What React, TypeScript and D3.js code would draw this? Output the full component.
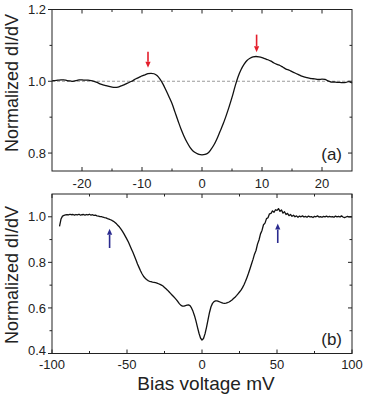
import React from "react";
import * as d3 from "d3";

// ---------- Panel (a) data ----------
const aBias = [
  -25, -24.5, -24, -23.5, -23, -22.5, -22, -21.5, -21, -20.5, -20, -19.5, -19, -18.5, -18, -17.5, -17, -16.5, -16, -15.5,
  -15, -14.5, -14, -13.5, -13, -12.5, -12, -11.5, -11, -10.5, -10, -9.5, -9, -8.5, -8, -7.5, -7, -6.5, -6, -5.5,
  -5, -4.5, -4, -3.5, -3, -2.5, -2, -1.5, -1, -0.5, 0, 0.5, 1, 1.5, 2, 2.5, 3, 3.5, 4, 4.5,
  5, 5.5, 6, 6.5, 7, 7.5, 8, 8.5, 9, 9.5, 10, 10.5, 11, 11.5, 12, 12.5, 13, 13.5, 14, 14.5,
  15, 15.5, 16, 16.5, 17, 17.5, 18, 18.5, 19, 19.5, 20, 20.5, 21, 21.5, 22, 22.5, 23, 23.5, 24, 24.5, 25,
];
const aDidv = [
  1.001, 1.002, 1.003, 1.004, 1.004, 1.002, 1.001, 1.0, 1.002, 1.004, 1.004, 1.003, 1.003, 1.002, 1.0, 0.997, 0.993, 0.99, 0.988, 0.986,
  0.984, 0.983, 0.984, 0.987, 0.99, 0.994, 0.998, 1.002, 1.007, 1.011, 1.015, 1.018, 1.021, 1.022, 1.021, 1.016, 1.006, 0.992, 0.975, 0.957,
  0.938, 0.914, 0.89, 0.867, 0.847, 0.83, 0.816, 0.806, 0.8, 0.796, 0.795, 0.796, 0.8, 0.81, 0.823, 0.84, 0.86, 0.88, 0.903, 0.928,
  0.955, 0.985, 1.012, 1.032, 1.047, 1.058, 1.064, 1.068, 1.069, 1.068, 1.066, 1.063, 1.06, 1.056, 1.051, 1.047, 1.044, 1.039, 1.034, 1.031,
  1.027, 1.023, 1.019, 1.015, 1.012, 1.01, 1.008, 1.007, 1.006, 1.005, 1.006, 1.005, 1.001, 0.998, 0.998, 0.997, 0.997, 0.996, 0.997, 0.999, 0.995,
];
const aXTicks = [-20, -10, 0, 10, 20];
const aXMinor = [-15, -5, 5, 15];
const aYTicks = [0.8, 1.0, 1.2];
const aYMinor = [0.9, 1.1];
const aArrowX = [-9, 9.1];
const aArrowTip = [1.038, 1.0806];
const aArrowTail = [1.0825, 1.13];

// ---------- Panel (b) data ----------
const bBias = [
  -95, -94, -93, -92, -91, -90, -89, -88, -87, -86, -85, -84, -83, -82, -81, -80, -79, -78, -77, -76,
  -75, -74, -73, -72, -71, -70, -69, -68, -67, -66, -65, -64, -63, -62, -61, -60, -59, -58, -57, -56,
  -55, -54, -53, -52, -51, -50, -49, -48, -47, -46, -45, -44, -43, -42, -41, -40, -39, -38, -37, -36,
  -35, -34, -33, -32, -31, -30, -29, -28, -27, -26, -25, -24, -23, -22, -21, -20, -19, -18, -17, -16,
  -15, -14, -13, -12, -11, -10, -9, -8, -7, -6, -5, -4, -3, -2, -1, 0, 1, 2, 3, 4,
  5, 6, 7, 8, 9, 10, 11, 12, 13, 14, 15, 16, 17, 18, 19, 20, 21, 22, 23, 24,
  25, 26, 27, 28, 29, 30, 31, 32, 33, 34, 35, 36, 37, 38, 39, 40, 41, 42, 43, 44,
  45, 46, 47, 48, 49, 50, 51, 52, 53, 54, 55, 56, 57, 58, 59, 60, 61, 62, 63, 64,
  65, 66, 67, 68, 69, 70, 71, 72, 73, 74, 75, 76, 77, 78, 79, 80, 81, 82, 83, 84,
  85, 86, 87, 88, 89, 90, 91, 92, 93, 94, 95, 96, 97, 98, 99, 100,
];
const bDidv = [
  0.958, 0.99, 1.003, 1.006, 1.008, 1.01, 1.008, 1.011, 1.009, 1.01, 1.007, 1.01, 1.008, 1.011, 1.007, 1.009, 1.01, 1.007, 1.01, 1.008,
  1.011, 1.007, 1.009, 1.006, 1.007, 1.004, 1.003, 1.001, 1.001, 0.998, 0.996, 0.995, 0.992, 0.99, 0.987, 0.984, 0.98, 0.975, 0.969, 0.962,
  0.955, 0.946, 0.936, 0.925, 0.913, 0.901, 0.888, 0.873, 0.858, 0.843, 0.827, 0.81, 0.793, 0.778, 0.763, 0.75, 0.739, 0.731, 0.725, 0.72,
  0.717, 0.715, 0.713, 0.712, 0.711, 0.709, 0.706, 0.703, 0.7, 0.696, 0.69, 0.684, 0.678, 0.671, 0.664, 0.657, 0.65, 0.643, 0.635, 0.627,
  0.618, 0.611, 0.608, 0.608, 0.61, 0.612, 0.613, 0.61, 0.6, 0.585, 0.566, 0.542, 0.515, 0.489, 0.468, 0.459, 0.466, 0.486, 0.515, 0.548,
  0.58, 0.605, 0.62, 0.628, 0.631, 0.631, 0.629, 0.626, 0.623, 0.621, 0.62, 0.621, 0.623, 0.626, 0.63, 0.635, 0.641, 0.647, 0.654, 0.662,
  0.67, 0.678, 0.689, 0.702, 0.717, 0.734, 0.752, 0.772, 0.793, 0.813, 0.836, 0.852, 0.88, 0.898, 0.925, 0.94, 0.965, 0.972, 0.992, 0.996,
  1.013, 1.015, 1.026, 1.02, 1.031, 1.028, 1.036, 1.024, 1.03, 1.016, 1.022, 1.01, 1.015, 1.005, 1.01, 1.002, 1.007, 1.0, 1.004, 0.998,
  1.003, 1.0, 1.004, 0.999, 1.002, 0.998, 1.003, 1.0, 1.001, 0.997, 1.002, 1.0, 1.004, 0.999, 1.001, 0.998, 1.002, 1.0, 1.003, 0.999,
  1.002, 1.0, 1.001, 0.998, 1.003, 1.0, 1.002, 0.999, 1.004, 0.999, 0.996, 0.999, 1.002, 1.0, 1.001, 1.0,
];
const bXTicks = [-100, -50, 0, 50, 100];
const bXMinor = [-75, -25, 25, 75];
const bYTicks = [0.4, 0.6, 0.8, 1.0];
const bYMinor = [0.5, 0.7, 0.9];
const bArrowX = [-61.6, 50.5];
const bArrowTip = [0.947, 0.97];
const bArrowTail = [0.863, 0.885];

const FONT = "'Liberation Sans', Arial, Helvetica, sans-serif";

type PanelProps = {
  xDomain: [number, number];
  yDomain: [number, number];
  top: number;
  bottom: number;
  xs: number[];
  ys: number[];
  xTicks: number[];
  xMinor: number[];
  yTicks: number[];
  yMinor: number[];
  arrowX: number[];
  arrowTip: number[];
  arrowTail: number[];
  arrowColor: string;
  label: string;
  dashed?: number;
  smooth?: boolean;
  labelBaseline: number;
  xLabelOffset: number;
  titleY: number;
  liftBottomYLabel?: number;
};

const LEFT = 52;
const RIGHT = 352;

function Panel(p: PanelProps) {
  const x = d3.scaleLinear().domain(p.xDomain).range([LEFT, RIGHT]);
  const y = d3.scaleLinear().domain(p.yDomain).range([p.bottom, p.top]);
  const pts = p.xs.map((v, i) => [v, p.ys[i]] as [number, number]);
  const line = d3
    .line<[number, number]>()
    .x((d) => x(d[0]))
    .y((d) => y(d[1]))
    .curve(p.smooth ? d3.curveCatmullRom : d3.curveLinear);
  const fmtY = d3.format(".1f");
  const MAJ = 4;
  const MIN = 2.5;
  return (
    <g>
      {p.dashed !== undefined && (
        <line x1={LEFT} x2={RIGHT} y1={y(p.dashed)} y2={y(p.dashed)} stroke="#9a9a9a" strokeWidth={1.1} strokeDasharray="3,2" />
      )}
      <path d={line(pts) || ""} fill="none" stroke="#111" strokeWidth={1.3} strokeLinejoin="round" />
      <rect x={LEFT} y={p.top} width={RIGHT - LEFT} height={p.bottom - p.top} fill="none" stroke="#222" strokeWidth={1} />
      {p.xTicks.map((t) => (
        <g key={"xt" + t}>
          <line x1={x(t)} x2={x(t)} y1={p.bottom} y2={p.bottom - MAJ} stroke="#222" />
          <line x1={x(t)} x2={x(t)} y1={p.top} y2={p.top + MAJ} stroke="#222" />
          <text x={x(t)} y={p.bottom + p.xLabelOffset} textAnchor="middle" fontSize={13} fill="#222" fontFamily={FONT}>
            {t}
          </text>
        </g>
      ))}
      {p.xMinor.map((t) => (
        <g key={"xm" + t}>
          <line x1={x(t)} x2={x(t)} y1={p.bottom} y2={p.bottom - MIN} stroke="#222" />
          <line x1={x(t)} x2={x(t)} y1={p.top} y2={p.top + MIN} stroke="#222" />
        </g>
      ))}
      {p.yTicks.map((t) => {
        const lift = p.liftBottomYLabel && t === p.yDomain[0] ? p.liftBottomYLabel : 0;
        return (
          <g key={"yt" + t}>
            <line x1={LEFT} x2={LEFT - MAJ} y1={y(t)} y2={y(t)} stroke="#222" />
            <line x1={RIGHT} x2={RIGHT - MAJ} y1={y(t)} y2={y(t)} stroke="#222" />
            <text x={LEFT - 6} y={y(t) + 4.6 - lift} textAnchor="end" fontSize={13} fill="#222" fontFamily={FONT}>
              {fmtY(t)}
            </text>
          </g>
        );
      })}
      {p.yMinor.map((t) => (
        <g key={"ym" + t}>
          <line x1={LEFT} x2={LEFT - MIN} y1={y(t)} y2={y(t)} stroke="#222" />
          <line x1={RIGHT} x2={RIGHT - MIN} y1={y(t)} y2={y(t)} stroke="#222" />
        </g>
      ))}
      {p.arrowX.map((ax, i) => {
        const tipY = y(p.arrowTip[i]);
        const tailY = y(p.arrowTail[i]);
        const dir = tipY > tailY ? 1 : -1;
        const headLen = 6;
        const cx = x(ax);
        return (
          <g key={"ar" + i}>
            <line x1={cx} x2={cx} y1={tailY} y2={tipY - dir * headLen} stroke={p.arrowColor} strokeWidth={1.6} />
            <path
              d={`M${cx - 2.6},${tipY - dir * headLen} L${cx + 2.6},${tipY - dir * headLen} L${cx},${tipY} Z`}
              fill={p.arrowColor}
            />
          </g>
        );
      })}
      <text x={342} y={p.labelBaseline} textAnchor="end" fontSize={17} fill="#222" fontFamily={FONT}>
        {p.label}
      </text>
      <text
        transform={`translate(17.5,${p.titleY}) rotate(-90)`}
        textAnchor="middle"
        fontSize={18}
        fill="#222"
        fontFamily={FONT}
      >
        Normalized dI/dV
      </text>
    </g>
  );
}

export default function App() {
  return (
    <svg
      width={365}
      height={396}
      style={{ position: "absolute", left: 0, top: 0, background: "#fff" }}
      xmlns="http://www.w3.org/2000/svg"
    >
      <rect width={365} height={396} fill="#fff" />
      <Panel
        xDomain={[-25, 25]}
        yDomain={[0.75, 1.2]}
        top={9.5}
        bottom={171}
        xs={aBias}
        ys={aDidv}
        xTicks={aXTicks}
        xMinor={aXMinor}
        yTicks={aYTicks}
        yMinor={aYMinor}
        arrowX={aArrowX}
        arrowTip={aArrowTip}
        arrowTail={aArrowTail}
        arrowColor="#e41e2b"
        label="(a)"
        dashed={1.0}
        smooth
        labelBaseline={159.5}
        xLabelOffset={17}
        titleY={83}
      />
      <Panel
        xDomain={[-100, 100]}
        yDomain={[0.4, 1.1]}
        top={194}
        bottom={353.5}
        xs={bBias}
        ys={bDidv}
        xTicks={bXTicks}
        xMinor={bXMinor}
        yTicks={bYTicks}
        yMinor={bYMinor}
        arrowX={bArrowX}
        arrowTip={bArrowTip}
        arrowTail={bArrowTail}
        arrowColor="#2b2b8f"
        label="(b)"
        labelBaseline={345}
        xLabelOffset={15.5}
        titleY={275}
        liftBottomYLabel={3.6}
      />
      <text x={206} y={389.5} textAnchor="middle" fontSize={19} fill="#222" fontFamily={FONT}>
        Bias voltage mV
      </text>
    </svg>
  );
}
